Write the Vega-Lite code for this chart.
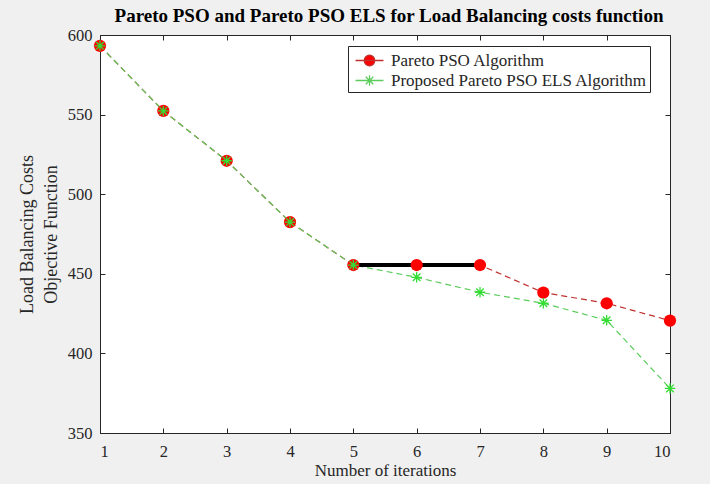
{
  "$schema": "https://vega.github.io/schema/vega-lite/v6.json",
  "width": 570,
  "height": 398,
  "autosize": {"type": "none"},
  "padding": {"left": 100, "top": 35, "right": 40, "bottom": 51},
  "background": "#f0f0f0",
  "view": {"fill": "white", "stroke": "#262626", "strokeWidth": 1},
  "title": {
    "text": "Pareto PSO and Pareto PSO ELS for Load Balancing costs function",
    "font": "Liberation Serif", "fontSize": 19, "fontWeight": "bold", "color": "#000000",
    "anchor": "middle", "offset": 1, "dx": 4
  },
  "config": {
    "axis": {
      "labelFont": "Liberation Serif", "labelFontSize": 16.5, "labelColor": "#262626",
      "titleFont": "Liberation Serif", "titleColor": "#262626", "titleFontWeight": "normal",
      "domainColor": "#262626", "tickColor": "#262626", "grid": false, "tickSize": -5
    }
  },
  "data": {
    "values": [
      {"it": 1, "cost": 593.2, "series": "Pareto PSO Algorithm"},
      {"it": 2, "cost": 552.3, "series": "Pareto PSO Algorithm"},
      {"it": 3, "cost": 521.0, "series": "Pareto PSO Algorithm"},
      {"it": 4, "cost": 482.5, "series": "Pareto PSO Algorithm"},
      {"it": 5, "cost": 455.5, "series": "Pareto PSO Algorithm"},
      {"it": 6, "cost": 455.5, "series": "Pareto PSO Algorithm"},
      {"it": 7, "cost": 455.5, "series": "Pareto PSO Algorithm"},
      {"it": 8, "cost": 438.2, "series": "Pareto PSO Algorithm"},
      {"it": 9, "cost": 431.5, "series": "Pareto PSO Algorithm"},
      {"it": 10, "cost": 420.6, "series": "Pareto PSO Algorithm"},
      {"it": 1, "cost": 593.2, "series": "Proposed Pareto PSO ELS Algorithm"},
      {"it": 2, "cost": 552.3, "series": "Proposed Pareto PSO ELS Algorithm"},
      {"it": 3, "cost": 521.0, "series": "Proposed Pareto PSO ELS Algorithm"},
      {"it": 4, "cost": 482.5, "series": "Proposed Pareto PSO ELS Algorithm"},
      {"it": 5, "cost": 455.5, "series": "Proposed Pareto PSO ELS Algorithm"},
      {"it": 6, "cost": 447.8, "series": "Proposed Pareto PSO ELS Algorithm"},
      {"it": 7, "cost": 438.4, "series": "Proposed Pareto PSO ELS Algorithm"},
      {"it": 8, "cost": 431.5, "series": "Proposed Pareto PSO ELS Algorithm"},
      {"it": 9, "cost": 420.8, "series": "Proposed Pareto PSO ELS Algorithm"},
      {"it": 10, "cost": 378.0, "series": "Proposed Pareto PSO ELS Algorithm"},
      {"it": 5, "cost": 455.5, "series": "highlight"},
      {"it": 7, "cost": 455.5, "series": "highlight"}
    ]
  },
  "resolve": {"axis": {"x": "independent", "y": "independent"}},
  "layer": [
    {
      "transform": [{"filter": "datum.series != 'highlight'"}],
      "mark": {"type": "line", "strokeDash": [6, 4], "strokeWidth": 1.2},
      "encoding": {
        "x": {"field": "it", "type": "quantitative", "scale": {"domain": [1, 10], "nice": false},
          "axis": {"values": [1,2,3,4,5,6,7,8,9,10], "title": "Number of iterations", "titleFontSize": 17, "labelPadding": 15, "titlePadding": 3, "format": "d"}},
        "y": {"field": "cost", "type": "quantitative", "scale": {"domain": [350, 600], "nice": false, "zero": false},
          "axis": {"values": [350,400,450,500,550,600], "title": ["Load Balancing Costs", "Objective Function"], "titleFontSize": 18, "labelPadding": 13, "titlePadding": 7, "titleLineHeight": 24}},
        "color": {"field": "series", "type": "nominal",
          "scale": {"domain": ["Pareto PSO Algorithm", "Proposed Pareto PSO ELS Algorithm"], "range": ["#c0302c", "#5ccc5c"]},
          "legend": {
            "orient": "none", "legendX": 248, "legendY": 11, "title": null,
            "direction": "vertical",
            "fillColor": "white", "strokeColor": "#262626", "padding": 3,
            "labelFont": "Liberation Serif", "labelFontSize": 17, "labelColor": "#262626",
            "symbolSize": 441, "symbolOffset": 7, "rowPadding": 0, "labelOffset": 10, "labelLimit": 400,
            "encode": {
              "symbols": {
                "update": {
                  "shape": {"signal": "datum.value == 'Pareto PSO Algorithm' ? 'M-1.33,0H1.33M-0.5,0A0.5,0.5 0 1,0 0.5,0A0.5,0.5 0 1,0 -0.5,0Z' : 'M-1.33,0H1.33M0,-0.5V0.5M-0.36,-0.36L0.36,0.36M-0.36,0.36L0.36,-0.36'"},
                  "fill": {"signal": "datum.value == 'Pareto PSO Algorithm' ? '#ff0000' : 'transparent'"},
                  "stroke": {"signal": "datum.value == 'Pareto PSO Algorithm' ? '#ff0000' : '#33cc33'"},
                  "strokeWidth": {"value": 1.3},
                  "strokeDash": {"value": []},
                  "opacity": {"value": 1}
                }
              }
            }
          }}
      }
    },
    {
      "transform": [{"filter": "datum.series == 'highlight'"}],
      "mark": {"type": "line", "color": "#000000", "strokeWidth": 4},
      "encoding": {
        "x": {"field": "it", "type": "quantitative", "scale": {"domain": [1, 10], "nice": false},
          "axis": {"orient": "top", "values": [1,2,3,4,5,6,7,8,9,10], "labels": false, "title": null}},
        "y": {"field": "cost", "type": "quantitative", "scale": {"domain": [350, 600], "nice": false, "zero": false},
          "axis": {"orient": "right", "values": [350,400,450,500,550,600], "labels": false, "title": null}}
      }
    },
    {
      "transform": [{"filter": "datum.series == 'Pareto PSO Algorithm'"}],
      "mark": {"type": "point", "shape": "circle", "filled": true, "color": "#ff0000", "size": 150, "opacity": 1},
      "encoding": {
        "x": {"field": "it", "type": "quantitative", "axis": null},
        "y": {"field": "cost", "type": "quantitative", "axis": null}
      }
    },
    {
      "transform": [{"filter": "datum.series == 'Proposed Pareto PSO ELS Algorithm'"}],
      "mark": {"type": "point", "shape": "M0,-1V1M-0.72,-0.72L0.72,0.72M-0.72,0.72L0.72,-0.72M-1,0H1", "filled": false, "color": "#33dd33", "strokeWidth": 1.3, "size": 110, "opacity": 1},
      "encoding": {
        "x": {"field": "it", "type": "quantitative", "axis": null},
        "y": {"field": "cost", "type": "quantitative", "axis": null}
      }
    }
  ]
}
